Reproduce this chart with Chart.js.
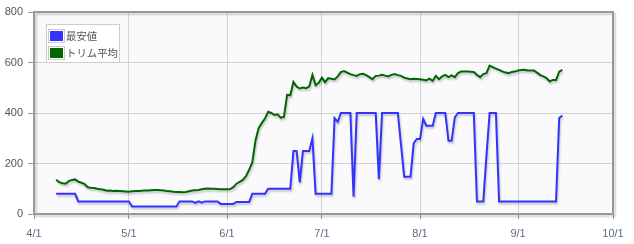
<!DOCTYPE html>
<html>
<head>
<meta charset="utf-8">
<script src="https://cdn.jsdelivr.net/npm/chart.js@4/dist/chart.umd.min.js"></script>
<style>
  html, body { margin: 0; padding: 0; background: #fff; }
  #wrap { position: relative; width: 634px; height: 244px; }
  #legend {
    position: absolute; left: 46px; top: 24px;
    border: 1px solid #ccc; background: rgba(255,255,255,0.85);
    padding: 2px 1px 1px 1px;
    font: 10.4px "Noto Sans CJK JP", sans-serif; color: #545454;
  }
  .row { display: flex; align-items: center; height: 17px; }
  .sw { border: 1px solid #ccc; padding: 1px; margin-right: 1px; }
  .sw span { display: block; width: 13px; height: 10px; }
</style>
</head>
<body>
<div id="wrap">
  <canvas id="chart" width="634" height="244"></canvas>
  <div id="legend"></div>
</div>
<script>
// days counted from 4/1; first point is 4/8
const firstDay = 7;

const minPrice = [
  80, 80, 80, 80, 80, 80, 80, 50, 50, 50,
  50, 50, 50, 50, 50, 50, 50, 50, 50, 50,
  50, 50, 50, 50, 30, 30, 30, 30, 30, 30,
  30, 30, 30, 30, 30, 30, 30, 30, 30, 50,
  50, 50, 50, 50, 44, 50, 45, 50, 50, 50,
  50, 50, 40, 40, 40, 40, 40, 48, 48, 48,
  48, 48, 80, 80, 80, 80, 80, 100, 100, 100,
  100, 100, 100, 100, 100, 250, 250, 125, 250, 250,
  250, 300, 80, 80, 80, 80, 80, 80, 380, 365,
  400, 400, 400, 400, 68, 400, 400, 400, 400, 400,
  400, 400, 138, 400, 400, 400, 400, 400, 400, 274,
  148, 148, 148, 280, 297, 297, 377, 350, 350, 350,
  400, 400, 400, 400, 290, 290, 383, 400, 400, 400,
  400, 400, 400, 50, 50, 50, 230, 400, 400, 400,
  50, 50, 50, 50, 50, 50, 50, 50, 50, 50,
  50, 50, 50, 50, 50, 50, 50, 50, 50, 380,
  390
];

const trimAvg = [
  136, 126, 122, 120, 130, 135, 137, 128, 124, 118,
  106, 104, 103, 100, 98, 96, 92, 93, 91, 92,
  91, 90, 89, 88, 90, 91, 91, 92, 93, 93,
  94, 95, 95, 94, 93, 91, 90, 88, 87, 87,
  86, 87, 90, 93, 94, 95, 98, 100, 101, 100,
  100, 99, 98, 98, 98, 99, 106, 120, 127, 135,
  150, 175, 205, 290, 340, 360, 378, 405, 400, 392,
  395, 381, 385, 472, 470, 523, 505, 497, 501, 498,
  505, 551, 510, 520, 540, 522, 538, 536, 533, 545,
  562, 566, 560, 554, 550, 547, 554, 555, 550, 542,
  534, 547, 548, 551, 548, 545, 551, 554, 550, 547,
  540, 537, 534, 536, 535, 534, 532, 529, 536, 527,
  547, 534, 545, 551, 542, 549, 542, 558, 564, 564,
  564, 563, 562, 551, 542, 554, 558, 588, 582, 576,
  571, 565, 560, 558, 562, 564, 568, 570, 571, 568,
  568, 568, 560, 550, 545, 538, 525, 531, 531, 564,
  571
];

const monthTicks = [0, 30, 61, 91, 122, 153, 183];
const monthLabels = ['4/1', '5/1', '6/1', '7/1', '8/1', '9/1', '10/1'];
const yTicks = [0, 200, 400, 600, 800];

function toPoints(values) {
  return values.map((v, i) => ({ x: firstDay + i, y: v }));
}

// light plot background + grey frame with a shadow
const framePlugin = {
  id: 'frame',
  beforeDraw(chart) {
    const a = chart.chartArea, ctx = chart.ctx;
    ctx.save();
    ctx.fillStyle = '#fafafd';
    ctx.fillRect(a.left, a.top, a.right - a.left, a.bottom - a.top);
    ctx.restore();
  },
  afterDraw(chart) {
    const a = chart.chartArea, ctx = chart.ctx;
    ctx.save();
    ctx.shadowColor = 'rgba(0,0,0,0.18)';
    ctx.shadowOffsetX = 2;
    ctx.shadowOffsetY = 2;
    ctx.shadowBlur = 2;
    ctx.strokeStyle = '#999';
    ctx.lineWidth = 2;
    ctx.strokeRect(a.left, a.top, a.right - a.left, a.bottom - a.top);
    ctx.restore();
  }
};

const shadowPlugin = {
  id: 'lineShadow',
  beforeDatasetDraw(chart) {
    const ctx = chart.ctx;
    ctx.save();
    ctx.shadowColor = 'rgba(0,0,0,0.22)';
    ctx.shadowOffsetX = 1;
    ctx.shadowOffsetY = 2;
    ctx.shadowBlur = 2;
  },
  afterDatasetDraw(chart) {
    chart.ctx.restore();
  }
};

const tickFont = { family: '"Liberation Sans", Arial, sans-serif', size: 11 };

const chart = new Chart(document.getElementById('chart'), {
  type: 'line',
  data: {
    datasets: [
      {
        label: '最安値',
        data: toPoints(minPrice),
        borderColor: '#3333ff',
        backgroundColor: '#3333ff',
        borderWidth: 2,
        pointRadius: 0,
        tension: 0
      },
      {
        label: 'トリム平均',
        data: toPoints(trimAvg),
        borderColor: '#006600',
        backgroundColor: '#006600',
        borderWidth: 2,
        pointRadius: 0,
        tension: 0
      }
    ]
  },
  options: {
    responsive: false,
    animation: false,
    layout: { padding: { top: 12, right: 21, left: 0, bottom: 0 } },
    plugins: { legend: { display: false }, tooltip: { enabled: false } },
    scales: {
      x: {
        type: 'linear',
        min: 0,
        max: 183,
        afterBuildTicks: s => { s.ticks = monthTicks.map(v => ({ value: v })); },
        afterFit: s => { s.height = 30; },
        ticks: {
          callback: (v, i) => monthLabels[i],
          color: '#5d6b88',
          font: tickFont,
          padding: 8,
          maxRotation: 0,
          autoSkip: false
        },
        grid: { color: '#d2d2d2', tickColor: '#999', tickLength: 5 },
        border: { display: false }
      },
      y: {
        min: 0,
        max: 800,
        afterBuildTicks: s => { s.ticks = yTicks.map(v => ({ value: v })); },
        afterFit: s => { s.width = 34; },
        ticks: {
          color: '#545454',
          font: tickFont,
          padding: 5
        },
        grid: { color: '#d2d2d2', tickColor: '#999', tickLength: 6 },
        border: { display: false }
      }
    }
  },
  plugins: [framePlugin, shadowPlugin]
});

// legend inside the plot, built from the datasets
const legend = document.getElementById('legend');
chart.data.datasets.forEach(ds => {
  const row = document.createElement('div');
  row.className = 'row';
  const sw = document.createElement('div');
  sw.className = 'sw';
  const fillBox = document.createElement('span');
  fillBox.style.background = ds.borderColor;
  sw.appendChild(fillBox);
  row.appendChild(sw);
  row.appendChild(document.createTextNode(ds.label));
  legend.appendChild(row);
});
</script>
</body>
</html>
